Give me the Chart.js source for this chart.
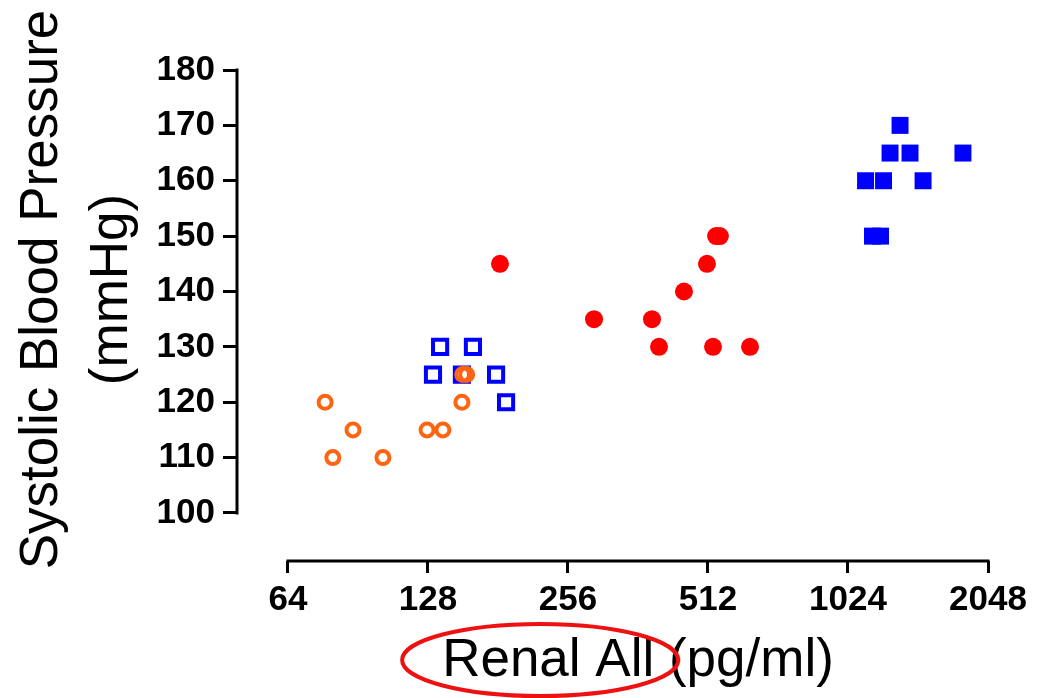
<!DOCTYPE html>
<html>
<head>
<meta charset="utf-8">
<style>
  html, body { margin: 0; padding: 0; background: #ffffff; }
  #wrap { width: 1040px; height: 698px; }
</style>
<script src="https://cdn.jsdelivr.net/npm/chart.js@4/dist/chart.umd.min.js"></script>
</head>
<body>
<div id="wrap"><canvas id="c" width="1040" height="698"></canvas></div>
<script>
// ---- data ----
const X_TICKS = [64, 128, 256, 512, 1024, 2048];
const Y_TICKS = [100, 110, 120, 130, 140, 150, 160, 170, 180];
const X_TITLE = 'Renal All (pg/ml)';
const X_TITLE_HIGHLIGHT = 'Renal All';
const Y_TITLE = ['Systolic Blood Pressure', '(mmHg)'];

// orange open circles
const groupA_x = [76.9, 79.9, 88.3, 102.4, 127.4, 137.8, 151.4, 152, 155];
const groupA_y = [120, 110, 115, 110, 115, 115, 120, 125, 125];

// blue open squares
const groupB_x = [135.9, 159.9, 131.2, 151.4, 179.3, 188.4];
const groupB_y = [130, 130, 125, 125, 125, 120];

// red filled circles
const groupC_x = [182.8, 291.2, 388, 401.7, 454.6, 509.4, 524.8, 533, 543, 630.4];
const groupC_y = [145, 135, 135, 130, 140, 145, 130, 150, 150, 130];

// blue filled squares
const groupD_x = [1117, 1221, 1325, 1261, 1392, 1485, 1809, 1156, 1203];
const groupD_y = [160, 160, 170, 165, 165, 160, 165, 150, 150];

function pts(xs, ys) { return xs.map((v, i) => ({ x: v, y: ys[i] })); }

const FONT = "'Liberation Sans', Arial, Helvetica, sans-serif";

const axesPlugin = {
  id: 'prismAxes',
  afterDraw(chart) {
    const ctx = chart.ctx;
    const xs = chart.scales.x, ys = chart.scales.y;
    const area = chart.chartArea;
    ctx.save();
    ctx.strokeStyle = '#000';
    ctx.lineWidth = 3;
    ctx.lineCap = 'square';
    // y axis line (detached)
    ctx.beginPath();
    ctx.moveTo(area.left, ys.getPixelForValue(Y_TICKS[0]));
    ctx.lineTo(area.left, ys.getPixelForValue(Y_TICKS[Y_TICKS.length - 1]));
    ctx.stroke();
    // x axis line (detached)
    ctx.beginPath();
    ctx.moveTo(xs.getPixelForValue(X_TICKS[0]), area.bottom);
    ctx.lineTo(xs.getPixelForValue(X_TICKS[X_TICKS.length - 1]), area.bottom);
    ctx.stroke();

    // axis titles
    ctx.fillStyle = '#000';
    ctx.font = '53px ' + FONT;
    ctx.textAlign = 'center';
    ctx.textBaseline = 'middle';
    const cy = (ys.getPixelForValue(Y_TICKS[0]) + ys.getPixelForValue(Y_TICKS[Y_TICKS.length - 1])) / 2;
    ctx.save();
    ctx.translate(42.5, cy - 2);
    ctx.rotate(-Math.PI / 2);
    ctx.fillText(Y_TITLE[0], 0, 0);
    ctx.fillText(Y_TITLE[1], 0, 70);
    ctx.restore();

    const cx = (xs.getPixelForValue(X_TICKS[0]) + xs.getPixelForValue(X_TICKS[X_TICKS.length - 1])) / 2;
    const ty = 661;
    ctx.fillText(X_TITLE, cx, ty);

    // red highlight ellipse around the first words of the x title
    const total = ctx.measureText(X_TITLE).width;
    const part = ctx.measureText(X_TITLE_HIGHLIGHT).width;
    const left = cx - total / 2;
    ctx.strokeStyle = '#EE1111';
    ctx.lineWidth = 4;
    ctx.beginPath();
    ctx.ellipse(left + part / 2 - 8, ty - 1, part / 2 + 32, 36, 0, 0, Math.PI * 2);
    ctx.stroke();
    ctx.restore();
  }
};

new Chart(document.getElementById('c'), {
  type: 'scatter',
  data: {
    datasets: [
      {
        label: 'A',
        data: pts(groupA_x, groupA_y),
        pointStyle: 'circle',
        pointRadius: 6.5,
        borderWidth: 4,
        borderColor: '#FF6410',
        backgroundColor: 'rgba(0,0,0,0)'
      },
      {
        label: 'B',
        data: pts(groupB_x, groupB_y),
        pointStyle: 'rect',
        pointRadius: 10,
        borderWidth: 4,
        borderColor: '#0000FF',
        backgroundColor: 'rgba(0,0,0,0)'
      },
      {
        label: 'C',
        data: pts(groupC_x, groupC_y),
        pointStyle: 'circle',
        pointRadius: 9,
        borderWidth: 0,
        borderColor: '#FF0000',
        backgroundColor: '#FF0000'
      },
      {
        label: 'D',
        data: pts(groupD_x, groupD_y),
        pointStyle: 'rect',
        pointRadius: 12,
        borderWidth: 0,
        borderColor: '#0000FF',
        backgroundColor: '#0000FF'
      }
    ]
  },
  options: {
    responsive: false,
    animation: false,
    events: [],
    layout: { padding: { left: 0, top: 70, right: 52, bottom: 0 } },
    plugins: { legend: { display: false }, tooltip: { enabled: false } },
    scales: {
      x: {
        type: 'logarithmic',
        position: 'bottom',
        min: 49.72,
        max: 2048,
        bounds: 'data',
        afterBuildTicks: s => { s.ticks = X_TICKS.map(v => ({ value: v })); },
        afterFit: s => { s.height = 137; },
        border: { display: false },
        grid: { drawOnChartArea: false, drawTicks: true, tickLength: 12, color: '#000', lineWidth: 3 },
        ticks: {
          autoSkip: false,
          maxRotation: 0,
          padding: 6,
          color: '#000',
          font: { family: FONT, size: 35, weight: 'bold' },
          callback: v => String(v)
        },
        title: { display: false }
      },
      y: {
        type: 'linear',
        position: 'left',
        min: 91.33,
        max: 180,
        bounds: 'data',
        afterBuildTicks: s => { s.ticks = Y_TICKS.map(v => ({ value: v })); },
        afterFit: s => { s.width = 237; },
        border: { display: false },
        grid: { drawOnChartArea: false, drawTicks: true, tickLength: 14, color: '#000', lineWidth: 3 },
        ticks: {
          padding: 8,
          color: '#000',
          font: { family: FONT, size: 35, weight: 'bold' },
          callback: v => String(v)
        },
        title: { display: false }
      }
    }
  },
  plugins: [axesPlugin]
});
</script>
</body>
</html>
